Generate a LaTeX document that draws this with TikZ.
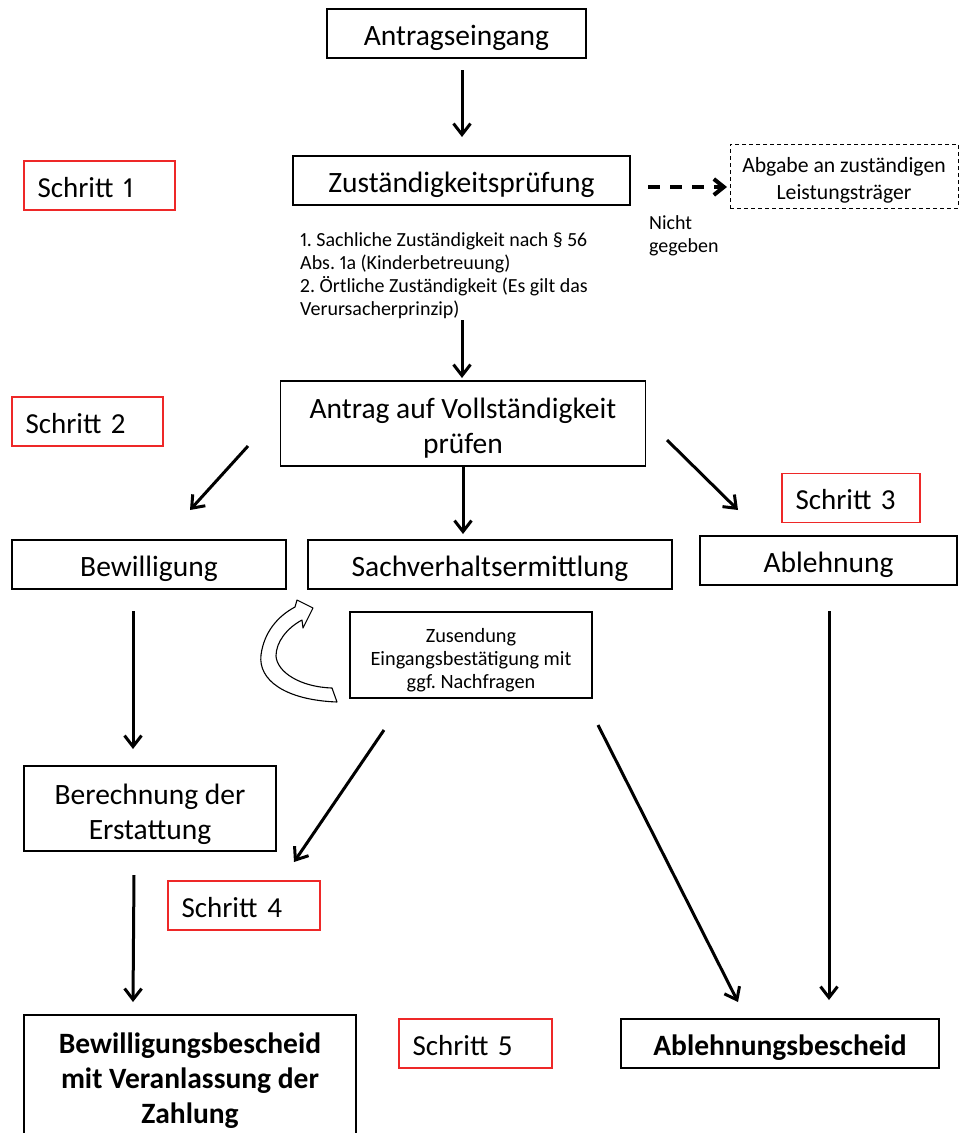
\documentclass[tikz,border=0pt]{standalone}
\usepackage{fontspec}
\setmainfont{Carlito}[Numbers=Proportional]
\usetikzlibrary{arrows.meta}
\definecolor{stepred}{RGB}{238,40,40}
\frenchspacing
\begin{document}
\begin{tikzpicture}[x=1pt,y=-1pt,
  box/.style={draw=black, line width=1.4pt, inner sep=0pt, align=center,
    font=\frenchspacing\fontsize{29.5}{35}\selectfont},
  one/.style={text height=23.5pt, text depth=0pt},
  stepbox/.style={draw=stepred, line width=1.3pt, inner xsep=13.5pt, inner ysep=0pt,
    align=left, minimum height=49pt, text height=23pt, text depth=0pt,
    font=\fontsize{29}{35}\selectfont},
  dashbox/.style={draw=black, line width=1pt, dash pattern=on 4pt off 3pt, inner sep=0pt,
    align=center, font=\fontsize{21.7}{27}\selectfont},
  small/.style={inner sep=0pt, align=left, font=\frenchspacing\fontsize{20}{23.3}\selectfont},
  arr/.style={line width=3pt, -{Straight Barb[length=11pt,width=17pt]}},
  darr/.style={line width=4pt, dash pattern=on 12pt off 10pt, -{Straight Barb[length=10pt,width=16pt]}},
  blockarrow/.style={draw=black, line width=1.1pt, fill=white, line join=round}
]
\useasboundingbox (0,0) rectangle (959,1133);
\clip (0,0) rectangle (959,1133);

% boxes
\node[box, one, minimum width=259pt, minimum height=49pt] (ant) at (456.5,33.5) {Antragseingang};
\node[box, one, minimum width=337pt, minimum height=49pt] (zust) at (461.5,180.5) {Zuständigkeitsprüfung};
\node[stepbox, text width=124pt] (s1) at (99.5,185.5) {Schritt 1};
\node[dashbox, minimum width=228pt, minimum height=64pt] (abg) at (844,176) {\rule{0pt}{24pt}Abgabe an zuständigen\\Leistungsträger};
\node[small, anchor=north west] (nicht) at (649,215.5) {Nicht\\gegeben};
\node[small, anchor=north west] (info) at (300,232) {1. Sachliche Zuständigkeit nach § 56\\Abs. 1a (Kinderbetreuung)\\2. Örtliche Zuständigkeit (Es gilt das\\Verursacherprinzip)};
\node[box, minimum width=365pt, minimum height=85pt] (antrag) at (463,423.5) {\rule{0pt}{29pt}Antrag auf Vollständigkeit\\prüfen};
\node[stepbox, text width=124pt] (s2) at (87.5,421.5) {Schritt 2};
\node[stepbox, text width=111pt] (s3) at (851,498) {Schritt 3};
\node[box, one, minimum width=274pt, minimum height=49pt] (bew) at (149,564.5) {Bewilligung};
\node[box, one, minimum width=364pt, minimum height=49pt] (sach) at (490,564.5) {Sachverhaltsermittlung};
\node[box, one, minimum width=257pt, minimum height=49pt] (abl) at (828.5,560.5) {Ablehnung};
\node[box, minimum width=242pt, minimum height=86pt, font=\frenchspacing\fontsize{20.3}{23}\selectfont] (zus) at (471,655) {\rule{0pt}{24pt}Zusendung\\Eingangsbestätigung mit\\ggf. Nachfragen};
\node[box, minimum width=252pt, minimum height=85pt] (ber) at (150,808.5) {\rule{0pt}{32pt}Berechnung der\\Erstattung};
\node[stepbox, text width=125pt] (s4) at (244,905.5) {Schritt 4};
\node[stepbox, text width=126pt] (s5) at (475.5,1043.5) {Schritt 5};
\node[box, one, minimum width=318pt, minimum height=49pt, font=\fontsize{29.5}{35}\selectfont\bfseries] (ablb) at (780,1043.5) {Ablehnungsbescheid};
\node[box, minimum width=332pt, minimum height=124pt, font=\fontsize{29.5}{35}\selectfont\bfseries] (bewb) at (190,1077) {\rule{0pt}{27pt}Bewilligungsbescheid\\mit Veranlassung der\\Zahlung};

% arrow end points
\coordinate (a1s) at (462,70);   \coordinate (a1e) at (462,137);
\coordinate (dse) at (648,187);  \coordinate (dee) at (727,187);
\coordinate (a2s) at (462,320);  \coordinate (a2e) at (462,378);
\coordinate (a3s) at (248,446);  \coordinate (a3e) at (190,510);
\coordinate (a4s) at (463,466);  \coordinate (a4e) at (463,534);
\coordinate (a5s) at (667,440);  \coordinate (a5e) at (738,510);
\coordinate (a6s) at (133,611);  \coordinate (a6e) at (133,749);
\coordinate (a7s) at (384,730);  \coordinate (a7e) at (294,862);
\coordinate (a8s) at (598,725);  \coordinate (a8e) at (738,1002);
\coordinate (a9s) at (829,611);  \coordinate (a9e) at (829,1000);
\coordinate (a10s) at (134,875); \coordinate (a10e) at (133,1002);

\draw[arr] (a1s) -- (a1e);
\draw[darr] (dse) -- (dee);
\draw[arr] (a2s) -- (a2e);
\draw[arr] (a3s) -- (a3e);
\draw[arr] (a4s) -- (a4e);
\draw[arr] (a5s) -- (a5e);
\draw[arr] (a6s) -- (a6e);
\draw[arr] (a7s) -- (a7e);
\draw[arr] (a8s) -- (a8e);
\draw[arr] (a9s) -- (a9e);
\draw[arr] (a10s) -- (a10e);

% curved block arrow
\draw[blockarrow] (337,702) .. controls (285,700) and (258,680) .. (261,655)
  .. controls (264,632) and (278,616) .. (295,607)
  -- (297,600) -- (313,608) -- (303,628) -- (302,620)
  .. controls (287,628) and (276,642) .. (276,656)
  .. controls (277,672) and (300,687) .. (332,688) -- cycle;
\end{tikzpicture}
\end{document}
